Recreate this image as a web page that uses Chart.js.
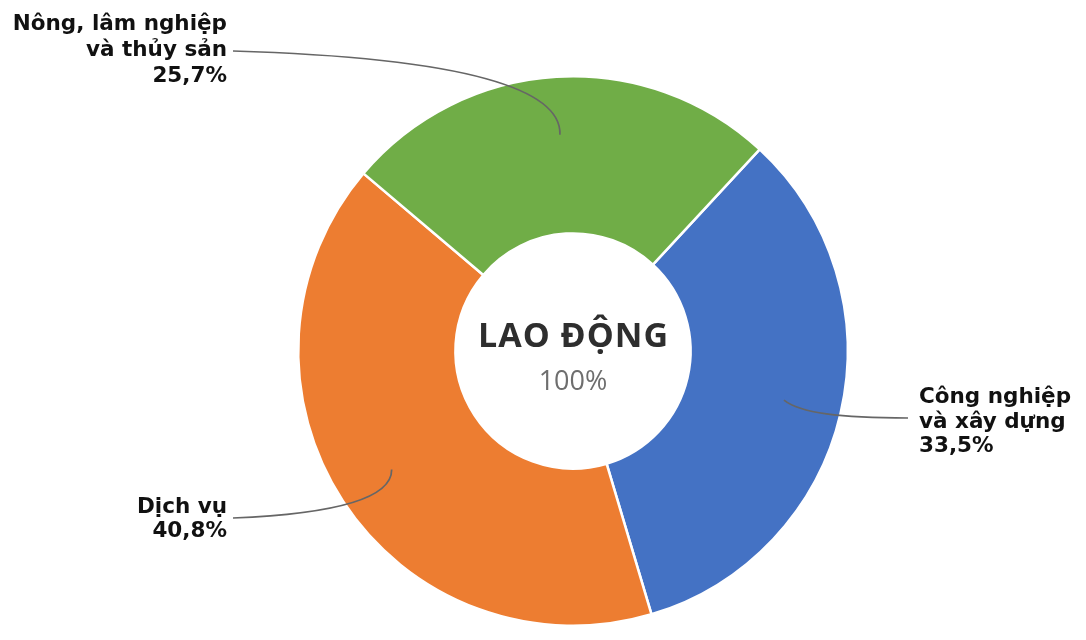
<!DOCTYPE html>
<html>
<head>
<meta charset="utf-8">
<script src="https://cdn.jsdelivr.net/npm/chart.js@4.4.1/dist/chart.umd.min.js"></script>
<style>
  html, body { margin: 0; padding: 0; background: #fff; }
  #wrap { width: 1086px; height: 640px; }
</style>
</head>
<body>
<div id="wrap"><canvas id="laborChart"></canvas></div>
<script>
// Co cau lao dong theo khu vuc kinh te
const categories = ['Công nghiệp và xây dựng', 'Dịch vụ', 'Nông, lâm nghiệp và thủy sản'];
const labelLines = [['Công nghiệp', 'và xây dựng'], ['Dịch vụ'], ['Nông, lâm nghiệp', 'và thủy sản']];
const shares = [33.5, 40.8, 25.7];
const colors = ['#4472C4', '#ED7D31', '#70AD47'];
const centerTitle = 'LAO ĐỘNG';
const centerValue = '100%';

// vi tri nhan va duong dan (chi la kieu trinh bay)
const labelStyle = [
    { x: 919, y: 403, gap: 24.5, align: 'left', lineStart: [908, 418], c1: [840, 418], c2: [800, 413] },
    { x: 227, y: 513, gap: 24, align: 'right', lineStart: [233, 518], c1: [330, 514], c2: [392, 500] },
    { x: 227, y: 30, gap: 26, align: 'right', lineStart: [233, 51], c1: [470, 58], c2: [562, 90] }
];

const fmt = v => v.toFixed(1).replace('.', ',') + '%';

const calloutPlugin = {
    id: 'callouts',
    afterDatasetsDraw(chart) {
        const ctx = chart.ctx;
        const arcs = chart.getDatasetMeta(0).data;
        ctx.save();
        arcs.forEach((arc, i) => {
            const p = arc.getProps(['x', 'y', 'startAngle', 'endAngle', 'innerRadius', 'outerRadius'], true);
            const mid = (p.startAngle + p.endAngle) / 2;
            const r = p.innerRadius + 0.63 * (p.outerRadius - p.innerRadius);
            const ax = p.x + Math.cos(mid) * r;
            const ay = p.y + Math.sin(mid) * r;
            const s = labelStyle[i];
            // duong dan
            ctx.beginPath();
            ctx.moveTo(s.lineStart[0], s.lineStart[1]);
            ctx.bezierCurveTo(s.c1[0], s.c1[1], s.c2[0], s.c2[1], ax, ay);
            ctx.strokeStyle = '#666666';
            ctx.lineWidth = 1.7;
            ctx.stroke();
            // nhan
            const lines = labelLines[i].concat([fmt(shares[i])]);
            ctx.fillStyle = '#111';
            ctx.font = 'bold 21.5px "DejaVu Sans"';
            ctx.textAlign = s.align;
            ctx.textBaseline = 'alphabetic';
            lines.forEach((t, k) => ctx.fillText(t, s.x, s.y + k * s.gap));
        });
        // chu o giua
        const c = arcs[0];
        ctx.textAlign = 'center';
        ctx.textBaseline = 'alphabetic';
        ctx.fillStyle = '#2e2e2e';
        ctx.font = 'bold 34px "Open Sans"';
        ctx.letterSpacing = '1px';
        ctx.fillText(centerTitle, c.x + 0.5, c.y - 4);
        ctx.letterSpacing = '0px';
        ctx.fillStyle = '#6e6e6e';
        ctx.font = '27px "Open Sans"';
        ctx.fillText(centerValue, c.x, c.y + 39);
        ctx.restore();
    }
};

const ctx = document.getElementById('laborChart').getContext('2d');

new Chart(ctx, {
    type: 'doughnut',
    data: {
        labels: categories,
        datasets: [{
            data: shares,
            backgroundColor: colors,
            borderColor: '#ffffff',
            borderWidth: 2.5,
            hoverOffset: 0
        }]
    },
    options: {
        responsive: true,
        maintainAspectRatio: false,
        animation: false,
        events: [],
        cutout: '42.8%',
        rotation: 42.8,
        layout: { padding: { top: 75, bottom: 13, left: 297, right: 237 } },
        plugins: {
            legend: { display: false },
            tooltip: { enabled: false }
        }
    },
    plugins: [calloutPlugin]
});
</script>
</body>
</html>
